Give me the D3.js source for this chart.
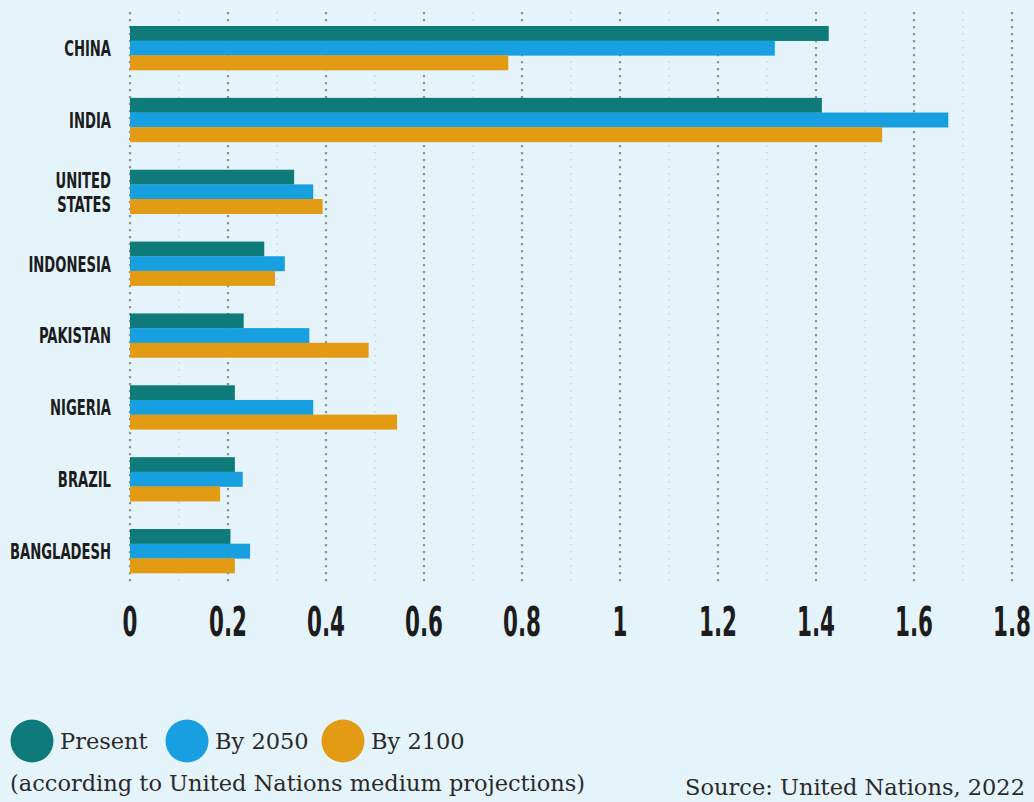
<!doctype html>
<html>
<head>
<meta charset="utf-8">
<script src="https://d3js.org/d3.v7.min.js"></script>
<style>
  body { margin: 0; background: #e5f3fb; }
  .country { font-family: 'DejaVu Sans Condensed', 'DejaVu Sans', sans-serif; font-weight: bold; font-size: 22px; fill: #1c1c1c; text-anchor: end; }
  .tick-label { font-family: 'DejaVu Sans Condensed', 'DejaVu Sans', sans-serif; font-weight: bold; font-size: 41px; fill: #1c1c1c; text-anchor: middle; }
  .legend, .note { font-family: 'DejaVu Serif', 'Liberation Serif', serif; fill: #2a2a2a; font-size: 22.5px; }
</style>
</head>
<body>
<svg id="chart" width="1034" height="802"></svg>
<script>
  // data (billions of people)
  var countries = ["CHINA", "INDIA", "UNITED STATES", "INDONESIA", "PAKISTAN", "NIGERIA", "BRAZIL", "BANGLADESH"];
  var present = [1.426, 1.412, 0.335, 0.274, 0.232, 0.214, 0.214, 0.205];
  var by2050  = [1.316, 1.670, 0.374, 0.316, 0.366, 0.374, 0.230, 0.245];
  var by2100  = [0.772, 1.535, 0.393, 0.296, 0.487, 0.545, 0.184, 0.214];
  var seriesNames = ["Present", "By 2050", "By 2100"];
  var seriesColors = ["#0f7a7a", "#179fe0", "#e29b12"];
  var xTicks = [0, 0.2, 0.4, 0.6, 0.8, 1, 1.2, 1.4, 1.6, 1.8];
  var minorTicks = [0.1, 0.3, 0.5, 0.7, 0.9, 1.1, 1.3, 1.5, 1.7];

  var svg = d3.select("#chart");
  svg.append("rect").attr("width", 1034).attr("height", 802).attr("fill", "#e5f3fb");

  var x = d3.scaleLinear().domain([0, 1.8]).range([130, 1012]);
  var y = d3.scaleBand().domain(countries).range([26, 573]).paddingInner(0.388).paddingOuter(0);
  var sub = d3.scaleBand().domain(seriesNames).range([0, y.bandwidth()]);

  // grid
  svg.append("g").selectAll("line.minor")
    .data(minorTicks).enter().append("line")
    .attr("x1", d => x(d)).attr("x2", d => x(d))
    .attr("y1", 12).attr("y2", 582)
    .attr("stroke", "#bcc6cb").attr("stroke-width", 1)
    .attr("stroke-dasharray", "1.5,5.5");
  svg.append("g").selectAll("line.major")
    .data(xTicks).enter().append("line")
    .attr("x1", d => x(d)).attr("x2", d => x(d))
    .attr("y1", 12).attr("y2", 582)
    .attr("stroke", "#8a9296").attr("stroke-width", 2.2)
    .attr("stroke-dasharray", "2.2,4.8");

  // bars
  var values = [present, by2050, by2100];
  var rows = [];
  countries.forEach(function(c, i) {
    seriesNames.forEach(function(s, j) {
      rows.push({country: c, series: s, value: values[j][i], color: seriesColors[j]});
    });
  });
  svg.append("g").selectAll("rect")
    .data(rows).enter().append("rect")
    .attr("x", x(0))
    .attr("y", d => y(d.country) + sub(d.series))
    .attr("width", d => x(d.value) - x(0))
    .attr("height", sub.bandwidth() + 0.3)
    .attr("fill", d => d.color);

  // country labels, squeezed to a condensed look
  var lab = svg.append("g").selectAll("text")
    .data(countries).enter().append("text")
    .attr("class", "country");
  lab.each(function(d) {
    var words = d.split(" ");
    var t = d3.select(this);
    words.forEach(function(w, k) {
      t.append("tspan").attr("x", 0)
        .attr("dy", k == 0 ? (8 - (words.length - 1) * 12) : 24)
        .text(w);
    });
  });
  var wide = lab.filter(d => d == "BANGLADESH").node().getComputedTextLength();
  var sx = 101 / wide;
  lab.attr("transform", d => "translate(111," + (y(d) + y.bandwidth() / 2) + ") scale(" + sx + ",1)");

  // x tick labels
  var tl = svg.append("g").selectAll("text")
    .data(xTicks).enter().append("text")
    .attr("class", "tick-label")
    .text(d => d3.format("~g")(d));
  var w02 = tl.filter(d => d == 0.2).node().getComputedTextLength();
  var tx = 38 / w02;
  tl.attr("transform", d => "translate(" + x(d) + ",636) scale(" + tx + ",1)");

  // legend
  var legendX = [32, 187, 343];
  var lg = svg.append("g").selectAll("g")
    .data(seriesNames).enter().append("g")
    .attr("transform", (d, i) => "translate(" + legendX[i] + ",741)");
  lg.append("circle").attr("r", 21.5).attr("fill", (d, i) => seriesColors[i]);
  lg.append("text").attr("class", "legend")
    .attr("x", 28).attr("y", 8)
    .text(d => d);

  svg.append("text").attr("class", "note")
    .attr("x", 10).attr("y", 791)
    .text("(according to United Nations medium projections)");
  svg.append("text").attr("class", "note")
    .attr("x", 1025).attr("y", 795)
    .attr("text-anchor", "end")
    .text("Source: United Nations, 2022");
</script>
</body>
</html>
